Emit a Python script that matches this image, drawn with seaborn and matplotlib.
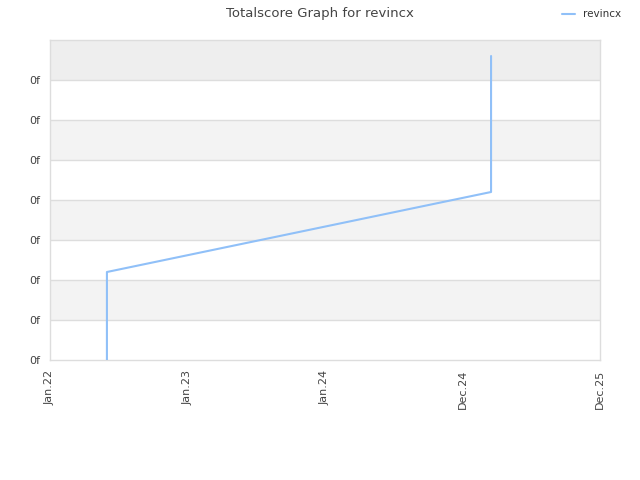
import matplotlib
matplotlib.use("Agg")
import seaborn as sns
import pandas as pd
import matplotlib.pyplot as plt
import matplotlib.dates as mdates

# score history
dates = ["2022-06-01", "2022-06-01", "2025-03-16", "2025-03-16"]
scores = [0.0, 2.2, 4.2, 7.6]
player = "revincx"

x_ticks = ["2022-01-01", "2022-12-31", "2023-12-31", "2024-12-30", "2025-12-30"]
x_labels = ["Jan.22", "Jan.23", "Jan.24", "Dec.24", "Dec.25"]
y_ticks = [0, 1, 2, 3, 4, 5, 6, 7]
y_labels = ["0f"] * len(y_ticks)

df = pd.DataFrame({"date": pd.to_datetime(dates), "score": scores})

sns.set_style("white")
plt.rcParams["font.family"] = ["DejaVu Sans"]

fig = plt.figure(figsize=(6.4, 4.8), dpi=100)
ax = fig.add_axes([50 / 640, 120 / 480, 550 / 640, 320 / 480])

# alternating bands
band_colors = ["white", "#f3f3f3", "white", "#f3f3f3", "white", "#f3f3f3", "white", "#eeeeee"]
for i, c in enumerate(band_colors):
    ax.axhspan(i, i + 1, color=c, zorder=0, lw=0)
for y in range(1, 8):
    ax.axhline(y, color="#dddddd", lw=1, zorder=1)

sns.lineplot(data=df, x="date", y="score", ax=ax, color="#90c0f8", lw=1.5,
             label=player, estimator=None, sort=False, zorder=3)

xt = mdates.date2num(pd.to_datetime(x_ticks))
ax.set_xlim(xt[0], xt[-1])
ax.set_ylim(0, 8)
ax.set_xticks(xt)
ax.set_xticklabels(x_labels, rotation=90, fontsize=8, color="#444444")
ax.set_yticks(y_ticks)
ax.set_yticklabels(y_labels, fontsize=8, color="#444444")
ax.tick_params(length=0, pad=7)
ax.set_xlabel("")
ax.set_ylabel("")
for s in ax.spines.values():
    s.set_color("#dddddd")
    s.set_linewidth(1)

ax.legend(loc="upper right", bbox_to_anchor=(0.985, 1.0), bbox_transform=fig.transFigure,
          frameon=False, fontsize=7.5, handlelength=1.2, labelcolor="#333333")
fig.suptitle("Totalscore Graph for revincx", fontsize=9.5, color="#444444", y=0.985)

fig.savefig("out.png", dpi=100)
